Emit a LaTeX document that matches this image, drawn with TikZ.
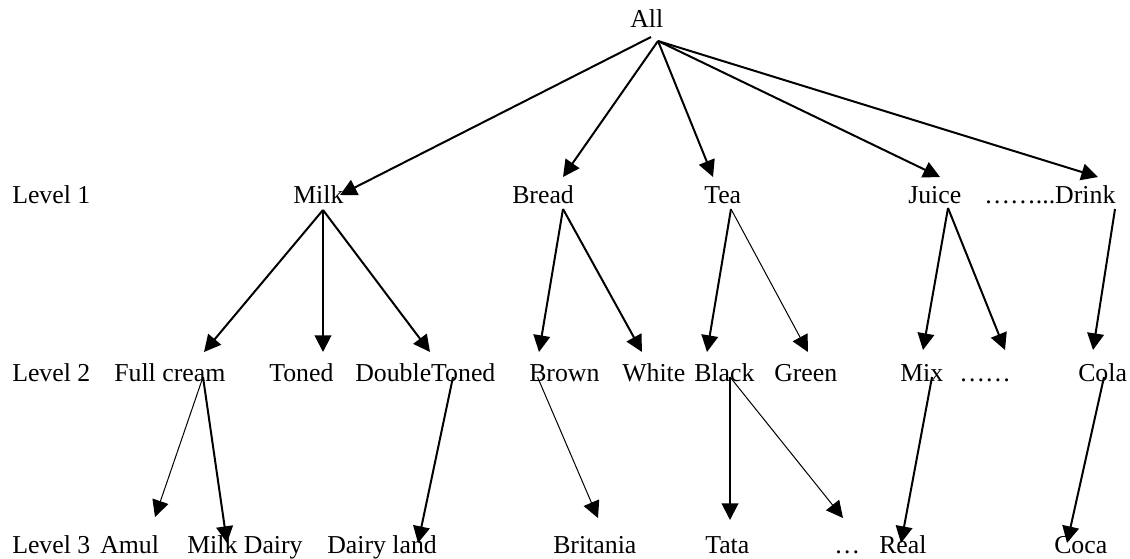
\documentclass[tikz,border=0pt]{standalone}
\usepackage{fontspec}
\setmainfont{Liberation Serif}
\usetikzlibrary{arrows.meta}
\begin{document}
\begin{tikzpicture}[x=0.75pt, y=-0.75pt,
	word/.style={inner sep=0pt, anchor=base west, font=\fontsize{19.35pt}{23pt}\selectfont},
	heavyarrow/.style={line width=1.5pt, -{Triangle[length=12.5pt, width=12.5pt]}},
	lightarrow/.style={line width=0.75pt, -{Triangle[length=12.5pt, width=12.5pt]}}]
	\useasboundingbox (0,0) rectangle (1130,558);
	% top
	\node[word] (all) at (630,27) {All};
	% level 1
	\node[word] (lvlone) at (12,203) {Level 1};
	\node[word] (milk) at (293,203) {Milk};
	\node[word] (bread) at (512,203) {Bread};
	\node[word] (tea) at (704,203) {Tea};
	\node[word] (juice) at (908,203) {Juice};
	\node[word] (drink) at (984,203) {……...Drink};
	% level 2
	\node[word] (lvltwo) at (12,381) {Level 2};
	\node[word] (fullcream) at (114,381) {Full cream};
	\node[word] (toned) at (269,381) {Toned};
	\node[word] (dbltoned) at (355,381) {DoubleToned};
	\node[word] (brown) at (529,381) {Brown};
	\node[word] (white) at (622,381) {White};
	\node[word] (black) at (694,381) {Black};
	\node[word] (green) at (774,381) {Green};
	\node[word] (mix) at (900,381) {Mix};
	\node[word] (moredots) at (959,381) {……};
	\node[word] (cola) at (1078,381) {Cola};
	% level 3
	\node[word] (lvlthree) at (12,553) {Level 3};
	\node[word] (amul) at (100,553) {Amul};
	\node[word] (milkdairy) at (187,553) {Milk Dairy};
	\node[word] (dairyland) at (327,553) {Dairy land};
	\node[word] (britania) at (553,553) {Britania};
	\node[word] (tata) at (705,553) {Tata};
	\node[word] (dots) at (834,553) {…};
	\node[word] (real) at (879,553) {Real};
	\node[word] (coca) at (1054,553) {Coca};
	% all -> level 1
	\draw[heavyarrow] ([shift={(21,10)}]all.base west) -- ([shift={(47,-8)}]milk.base west);
	\draw[heavyarrow] ([shift={(28,14)}]all.base west) -- ([shift={(51,-26)}]bread.base west);
	\draw[heavyarrow] ([shift={(28,14)}]all.base west) -- ([shift={(9,-26)}]tea.base west);
	\draw[heavyarrow] ([shift={(28,14)}]all.base west) -- ([shift={(32,-26)}]juice.base west);
	\draw[heavyarrow] ([shift={(28,14)}]all.base west) -- ([shift={(114,-26)}]drink.base west);
	% level 1 -> level 2
	\draw[heavyarrow] ([shift={(30,7)}]milk.base west) -- ([shift={(90,-29)}]fullcream.base west);
	\draw[heavyarrow] ([shift={(30,7)}]milk.base west) -- ([shift={(54,-29)}]toned.base west);
	\draw[heavyarrow] ([shift={(30,7)}]milk.base west) -- ([shift={(75,-29)}]dbltoned.base west);
	\draw[heavyarrow] ([shift={(51,6)}]bread.base west) -- ([shift={(10,-29)}]brown.base west);
	\draw[heavyarrow] ([shift={(51,6)}]bread.base west) -- ([shift={(20,-29)}]white.base west);
	\draw[heavyarrow] ([shift={(27,6)}]tea.base west) -- ([shift={(13,-29)}]black.base west);
	\draw[lightarrow] ([shift={(27,6)}]tea.base west) -- ([shift={(34,-29)}]green.base west);
	\draw[heavyarrow] ([shift={(40,5)}]juice.base west) -- ([shift={(23,-31)}]mix.base west);
	\draw[heavyarrow] ([shift={(40,5)}]juice.base west) -- ([shift={(46,-31)}]moredots.base west);
	\draw[heavyarrow] ([shift={(131,6)}]drink.base west) -- ([shift={(15,-31)}]cola.base west);
	% level 2 -> level 3
	\draw[lightarrow] ([shift={(89,-4)}]fullcream.base west) -- ([shift={(55,-36)}]amul.base west);
	\draw[heavyarrow] ([shift={(89,-4)}]fullcream.base west) -- ([shift={(40,-10)}]milkdairy.base west);
	\draw[heavyarrow] ([shift={(98,-4)}]dbltoned.base west) -- ([shift={(91,-10)}]dairyland.base west);
	\draw[lightarrow] ([shift={(8.5,-4)}]brown.base west) -- ([shift={(45,-35)}]britania.base west);
	\draw[heavyarrow] ([shift={(36,-4)}]black.base west) -- ([shift={(25,-33)}]tata.base west);
	\draw[lightarrow] ([shift={(36,-4)}]black.base west) -- ([shift={(9,-35)}]dots.base west);
	\draw[heavyarrow] ([shift={(32,-4)}]mix.base west) -- ([shift={(22,-10)}]real.base west);
	\draw[heavyarrow] ([shift={(26,-4)}]cola.base west) -- ([shift={(13,-10)}]coca.base west);
\end{tikzpicture}
\end{document}
